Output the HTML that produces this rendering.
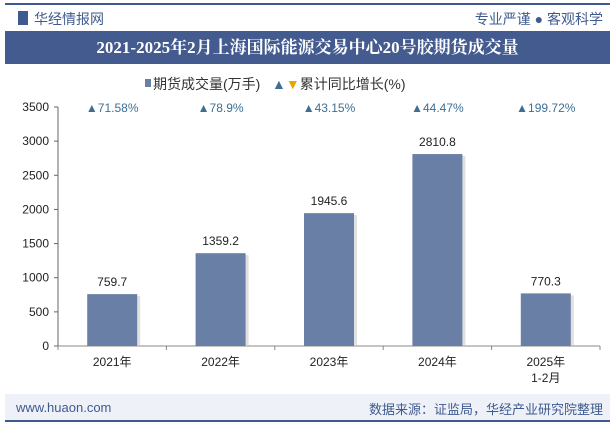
<!DOCTYPE html>
<html><head><meta charset="utf-8"><style>
body{margin:0;width:615px;height:427px;background:#fff;font-family:"Liberation Sans","Noto Sans CJK SC",sans-serif;overflow:hidden;position:relative}
.abs{position:absolute}
</style></head><body>
<div class="abs" style="left:5px;top:3px;width:605px;height:2px;background:#3f5a8f"></div>
<div class="abs" style="left:18px;top:11px;width:10px;height:14px;background:#3f5a8f"></div>
<div class="abs" style="left:34px;top:9px;font-size:14px;color:#3f5a8f">华经情报网</div>
<div class="abs" style="right:12px;top:9px;font-size:14px;color:#3f5a8f">专业严谨 ● 客观科学</div>
<div class="abs" style="left:5px;top:31px;width:605px;height:33px;background:#435b8f;color:#fff;font-size:17px;font-weight:bold;text-align:center;line-height:33px;font-family:'Liberation Serif','Noto Serif CJK SC',serif">2021-2025年2月上海国际能源交易中心20号胶期货成交量</div>
<svg class="abs" style="left:0;top:0" width="615" height="427" id="chart"></svg>
<div class="abs" style="left:5px;top:394px;width:605px;height:26px;background:#eef1f7"></div>
<div class="abs" style="left:16px;top:400px;font-size:13px;color:#3f5a8f">www.huaon.com</div>
<div class="abs" style="right:12px;top:399px;font-size:13px;color:#3f5a8f">数据来源：证监局，华经产业研究院整理</div>
<div class="abs" style="left:5px;top:420px;width:605px;height:2px;background:#3f5a8f"></div>
<script>
const categories=["2021年","2022年","2023年","2024年","2025年|1-2月"];
const volumes=[759.7,1359.2,1945.6,2810.8,770.3];
const growth=["71.58%","78.9%","43.15%","44.47%","199.72%"];
const yTicks=[0,500,1000,1500,2000,2500,3000,3500];
const NS="http://www.w3.org/2000/svg";
const svg=document.getElementById('chart');
const x0=58,x1=600,y0=346,y1=107,yMax=3500;
const band=(x1-x0)/categories.length;
const yS=v=>y0-(v/yMax)*(y0-y1);
const xC=i=>x0+band*(i+0.5);
function el(t,a,txt){const e=document.createElementNS(NS,t);for(const k in a)e.setAttribute(k,a[k]);if(txt!=null)e.textContent=txt;svg.appendChild(e);return e;}
let lg=el('rect',{x:145,y:79,width:6,height:8,fill:'#6a7fa6'});

let lt=el('text',{x:153,y:89,'font-size':14,fill:'#333'},'期货成交量(万手)');

let lt2=el('text',{x:272,y:89,'font-size':14,fill:'#333'},'');
lt2.innerHTML='<tspan fill="#3d6f94">▲</tspan><tspan fill="#e8a500">▼</tspan>累计同比增长(%)';

let ya=el('line',{x1:x0,y1:y1,x2:x0,y2:y0,stroke:'#666'});

let xa=el('line',{x1:x0,y1:y0,x2:x1,y2:y0,stroke:'#888'});

yTicks.forEach(v=>{
 el('line',{x1:x0-4,y1:yS(v),x2:x0,y2:yS(v),stroke:'#666'});
 let t=el('text',{x:x0-9,y:yS(v)+4,'font-size':12,'text-anchor':'end',fill:'#222'},v);
 
});
for(let i=0;i<=categories.length;i++)el('line',{x1:x0+band*i,y1:y0,x2:x0+band*i,y2:y0+4,stroke:'#888'});
categories.forEach((c,i)=>{
 const cx=xC(i),w=50,h=y0-yS(volumes[i]);
 el('rect',{x:cx-w/2+3,y:yS(volumes[i])+2,width:w,height:h-2,fill:'#ccc',opacity:0.6});
 let b=el('rect',{x:cx-w/2,y:yS(volumes[i]),width:w,height:h,fill:'#6a7fa6'});
 
 let v=el('text',{x:cx,y:yS(volumes[i])-8,'font-size':12,'text-anchor':'middle',fill:'#222'},volumes[i]);
 
 let g=el('text',{x:cx,y:112,'font-size':12,'text-anchor':'middle',fill:'#3d6f94'},'▲'+growth[i]);
 
 c.split('|').forEach((p,j)=>{
  let t=el('text',{x:cx,y:366+j*16,'font-size':12,'text-anchor':'middle',fill:'#222'},p);
  
 });
});
</script>
</body></html>
